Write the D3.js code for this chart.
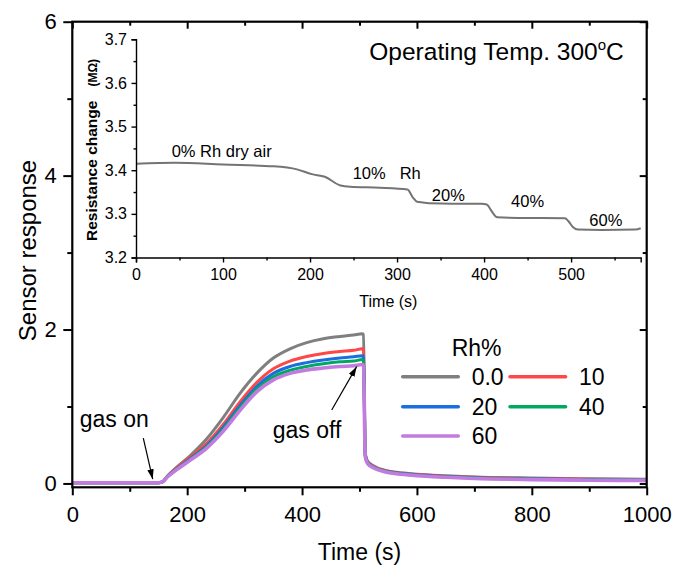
<!DOCTYPE html>
<html><head><meta charset="utf-8">
<script src="https://cdn.jsdelivr.net/npm/d3@7"></script>
<style>
html,body{margin:0;padding:0;background:#fff;}
svg{display:block;font-family:"Liberation Sans",Arial,sans-serif;}
</style></head>
<body>
<svg id="chart" width="675" height="570"></svg>
<script>
// ---------- DATA ----------
const seriesNames = ["0.0", "10", "20", "40", "60"];
const seriesColors = ["#7f7f7f", "#ff4747", "#1a6fdf", "#00a862", "#c27ce0"];
const timeMain = [0, 150, 157, 165, 180, 205, 234, 263, 292, 321, 350, 379, 408, 437, 466, 490, 505, 507, 510, 514, 524, 545, 565, 600, 650, 700, 800, 900, 1000];
const rh0  = [0.01, 0.01, 0.02, 0.09, 0.20, 0.36, 0.58, 0.86, 1.17, 1.43, 1.63, 1.75, 1.83, 1.88, 1.91, 1.93, 1.945, 1.94, 0.40, 0.29, 0.23, 0.17, 0.145, 0.12, 0.10, 0.085, 0.07, 0.06, 0.055];
const rh10 = [0.01, 0.01, 0.02, 0.09, 0.19, 0.34, 0.52, 0.77, 1.06, 1.31, 1.49, 1.59, 1.65, 1.69, 1.715, 1.73, 1.75, 1.745, 0.38, 0.28, 0.22, 0.165, 0.14, 0.115, 0.095, 0.08, 0.065, 0.055, 0.05];
const rh20 = [0.01, 0.01, 0.02, 0.085, 0.18, 0.32, 0.49, 0.73, 1.01, 1.26, 1.43, 1.52, 1.57, 1.605, 1.63, 1.645, 1.66, 1.655, 0.37, 0.27, 0.215, 0.16, 0.135, 0.11, 0.09, 0.075, 0.06, 0.05, 0.045];
const rh40 = [0.01, 0.01, 0.02, 0.085, 0.175, 0.31, 0.475, 0.705, 0.98, 1.225, 1.385, 1.47, 1.52, 1.555, 1.58, 1.59, 1.61, 1.605, 0.36, 0.265, 0.21, 0.155, 0.13, 0.105, 0.085, 0.07, 0.055, 0.048, 0.045];
const rh60 = [0.01, 0.01, 0.02, 0.08, 0.17, 0.30, 0.46, 0.68, 0.95, 1.19, 1.345, 1.43, 1.475, 1.50, 1.52, 1.53, 1.545, 1.54, 0.35, 0.26, 0.205, 0.15, 0.125, 0.10, 0.08, 0.065, 0.05, 0.042, 0.04];
const seriesValues = [rh0, rh10, rh20, rh40, rh60];

const insetTime = [0, 45, 100, 158, 185, 202, 217, 235, 246, 280, 312, 318, 323, 351, 397, 403, 409, 415, 439, 493, 497, 502, 508, 535, 574, 580];
const insetRes  = [3.415, 3.417, 3.413, 3.409, 3.402, 3.391, 3.385, 3.365, 3.362, 3.360, 3.356, 3.338, 3.328, 3.3235, 3.323, 3.3216, 3.305, 3.292, 3.2906, 3.290, 3.283, 3.270, 3.264, 3.263, 3.264, 3.267];

const xTicks = [0, 200, 400, 600, 800, 1000];
const xMinor = [100, 300, 500, 700, 900];
const yTicks = [0, 2, 4, 6];
const yMinor = [1, 3, 5];
const ixTicks = [0, 100, 200, 300, 400, 500];
const ixMinor = [50, 150, 250, 350, 450, 550];
const iyTicks = [3.2, 3.3, 3.4, 3.5, 3.6, 3.7];
const iyMinor = [3.25, 3.35, 3.45, 3.55, 3.65];

const insetNotes = [
  {t: 41, r: 3.43, text: "0% Rh dry air"},
  {t: 249, r: 3.3805, text: "10%"},
  {t: 303, r: 3.3805, text: "Rh"},
  {t: 340, r: 3.3306, text: "20%"},
  {t: 431, r: 3.315, text: "40%"},
  {t: 521, r: 3.273, text: "60%"}
];

// ---------- SCALES ----------
const svg = d3.select("#chart");
const x = d3.scaleLinear().domain([0, 1000]).range([72.3, 646.7]);
const y = d3.scaleLinear().domain([-0.05, 6]).range([487.3, 21.7]);
const xi = d3.scaleLinear().domain([0, 580]).range([136, 640.7]);
const yi = d3.scaleLinear().domain([3.2, 3.7]).range([257.5, 39.3]);

const FONT = '"Liberation Sans", Arial, sans-serif';

// ---------- MAIN CURVES ----------
const line = d3.line().x(d => x(d[0])).y(d => y(d[1])).curve(d3.curveMonotoneX);
seriesValues.forEach((vals, i) => {
  svg.append("path")
    .datum(timeMain.map((t, k) => [t, vals[k]]))
    .attr("d", line)
    .attr("fill", "none")
    .attr("stroke", seriesColors[i])
    .attr("stroke-width", i === 4 ? 3.6 : 3)
    .attr("stroke-linejoin", "round");
});

// ---------- MAIN AXES ----------
function styleAxis(g, w) {
  g.select(".domain").remove();
  g.selectAll("line").attr("stroke", "#000").attr("stroke-width", w);
  g.selectAll("text").attr("font-family", FONT).attr("fill", "#000");
}
const H = 487.3, L = 72.3, R = 646.7, T = 21.7;
svg.append("g").attr("transform", `translate(0,${H})`)
  .call(d3.axisBottom(x).tickValues(xTicks).tickSize(8).tickPadding(11).tickFormat(d3.format("d")))
  .call(g => { styleAxis(g, 2); g.selectAll("text").attr("font-size", 22); });
svg.append("g").attr("transform", `translate(0,${H})`)
  .call(d3.axisBottom(x).tickValues(xMinor).tickSize(4.5).tickFormat(""))
  .call(g => styleAxis(g, 2));
svg.append("g").attr("transform", `translate(${L},0)`)
  .call(d3.axisLeft(y).tickValues(yTicks).tickSize(9).tickPadding(6.5).tickFormat(d3.format("d")))
  .call(g => { styleAxis(g, 2); g.selectAll("text").attr("font-size", 22); });
svg.append("g").attr("transform", `translate(${L},0)`)
  .call(d3.axisLeft(y).tickValues(yMinor).tickSize(5).tickFormat(""))
  .call(g => styleAxis(g, 2));
svg.append("g").attr("transform", `translate(0,${T})`)
  .call(d3.axisTop(x).tickValues(xTicks).tickSize(-7).tickFormat(""))
  .call(g => styleAxis(g, 2));
svg.append("g").attr("transform", `translate(0,${T})`)
  .call(d3.axisTop(x).tickValues(xMinor).tickSize(-4).tickFormat(""))
  .call(g => styleAxis(g, 2));
svg.append("g").attr("transform", `translate(${R},0)`)
  .call(d3.axisRight(y).tickValues(yTicks).tickSize(-7).tickFormat(""))
  .call(g => styleAxis(g, 2));
svg.append("g").attr("transform", `translate(${R},0)`)
  .call(d3.axisRight(y).tickValues(yMinor).tickSize(-4).tickFormat(""))
  .call(g => styleAxis(g, 2));
svg.append("rect").attr("x", L).attr("y", T).attr("width", R - L).attr("height", H - T)
  .attr("fill", "none").attr("stroke", "#000").attr("stroke-width", 2.2);

svg.append("text").attr("x", (L + R) / 2).attr("y", 560).attr("text-anchor", "middle")
  .attr("font-family", FONT).attr("font-size", 23).text("Time (s)");
svg.append("text").attr("transform", `translate(36,${(T + H) / 2 - 4}) rotate(-90)`)
  .attr("text-anchor", "middle").attr("font-family", FONT).attr("font-size", 24).text("Sensor response");

// ---------- INSET ----------
const ilineGen = d3.line().x(d => xi(d[0])).y(d => yi(d[1])).curve(d3.curveMonotoneX);
svg.append("path").datum(insetTime.map((t, k) => [t, insetRes[k]]))
  .attr("d", ilineGen).attr("fill", "none").attr("stroke", "#747474").attr("stroke-width", 2);

const iB = 257.5, iL = 136;
svg.append("g").attr("transform", `translate(0,${iB})`)
  .call(d3.axisBottom(xi).tickValues(ixTicks).tickSize(5).tickPadding(6).tickFormat(d3.format("d")))
  .call(g => { g.select(".domain").attr("stroke", "#000").attr("stroke-width", 1.4);
    g.selectAll("line").attr("stroke", "#000").attr("stroke-width", 1.4);
    g.selectAll("text").attr("font-family", FONT).attr("font-size", 16).attr("fill", "#000"); });
svg.append("g").attr("transform", `translate(0,${iB})`)
  .call(d3.axisBottom(xi).tickValues(ixMinor).tickSize(3).tickFormat(""))
  .call(g => { g.select(".domain").remove(); g.selectAll("line").attr("stroke", "#000").attr("stroke-width", 1.4); });
svg.append("g").attr("transform", `translate(${iL},0)`)
  .call(d3.axisLeft(yi).tickValues(iyTicks).tickSize(4.5).tickPadding(4.5).tickFormat(d3.format(".1f")))
  .call(g => { g.select(".domain").attr("stroke", "#000").attr("stroke-width", 1.4);
    g.selectAll("line").attr("stroke", "#000").attr("stroke-width", 1.4);
    g.selectAll("text").attr("font-family", FONT).attr("font-size", 16).attr("fill", "#000"); });
svg.append("g").attr("transform", `translate(${iL},0)`)
  .call(d3.axisLeft(yi).tickValues(iyMinor).tickSize(2.5).tickFormat(""))
  .call(g => { g.select(".domain").remove(); g.selectAll("line").attr("stroke", "#000").attr("stroke-width", 1.4); });

svg.append("text").attr("x", (xi.range()[0] + xi.range()[1]) / 2).attr("y", 307).attr("text-anchor", "middle")
  .attr("font-family", FONT).attr("font-size", 16).text("Time (s)");
const iyl = svg.append("text").attr("transform", `translate(97,241) rotate(-90)`)
  .attr("font-family", FONT).attr("font-weight", "bold").attr("font-size", 15.5);
iyl.append("tspan").text("Resistance change");
iyl.append("tspan").attr("dx", 14).attr("font-size", 12).text("(MΩ)");

insetNotes.forEach(n => {
  svg.append("text").attr("x", xi(n.t)).attr("y", yi(n.r))
    .attr("font-family", FONT).attr("font-size", 16.5).text(n.text);
});

// title
const ttl = svg.append("text").attr("x", x(960)).attr("y", y(5.5)).attr("text-anchor", "end")
  .attr("font-family", FONT).attr("font-size", 24.5);
ttl.append("tspan").text("Operating Temp. 300");
ttl.append("tspan").attr("font-size", 15).attr("dy", -10).text("o");
ttl.append("tspan").attr("dy", 10).text("C");

// ---------- ANNOTATIONS ----------
svg.append("defs").append("marker").attr("id", "ah").attr("viewBox", "0 0 10 10")
  .attr("refX", 10).attr("refY", 5).attr("markerWidth", 10).attr("markerHeight", 10)
  .attr("markerUnits", "userSpaceOnUse").attr("orient", "auto")
  .append("path").attr("d", "M0,1.8 L10,5 L0,8.2 Z").attr("fill", "#000");
const arrows = [
  {t0: 123.6, v0: 0.59, t1: 140, v1: 0.055},
  {t0: 451.6, v0: 0.955, t1: 495, v1: 1.518}
];
arrows.forEach(a => {
  svg.append("line").attr("x1", x(a.t0)).attr("y1", y(a.v0)).attr("x2", x(a.t1)).attr("y2", y(a.v1))
    .attr("stroke", "#000").attr("stroke-width", 1.2).attr("marker-end", "url(#ah)");
});
svg.append("text").attr("x", x(13)).attr("y", y(0.73)).attr("font-family", FONT).attr("font-size", 23).text("gas on");
svg.append("text").attr("x", x(349)).attr("y", y(0.587)).attr("font-family", FONT).attr("font-size", 23).text("gas off");

// ---------- LEGEND ----------
svg.append("text").attr("x", 451.7).attr("y", 356).attr("font-family", FONT).attr("font-size", 23).text("Rh%");
const legPos = [[402.7, 376.7], [510, 376.7], [402.7, 406.7], [510, 406.7], [402.7, 436]];
seriesNames.forEach((nm, i) => {
  const [lx, ly] = legPos[i];
  svg.append("line").attr("x1", lx).attr("x2", lx + 55.6).attr("y1", ly).attr("y2", ly)
    .attr("stroke", seriesColors[i]).attr("stroke-width", 3.5).attr("stroke-linecap", "round");
  svg.append("text").attr("x", lx + 69).attr("y", ly + 8.3).attr("font-family", FONT).attr("font-size", 23).text(nm);
});
</script>
</body></html>
